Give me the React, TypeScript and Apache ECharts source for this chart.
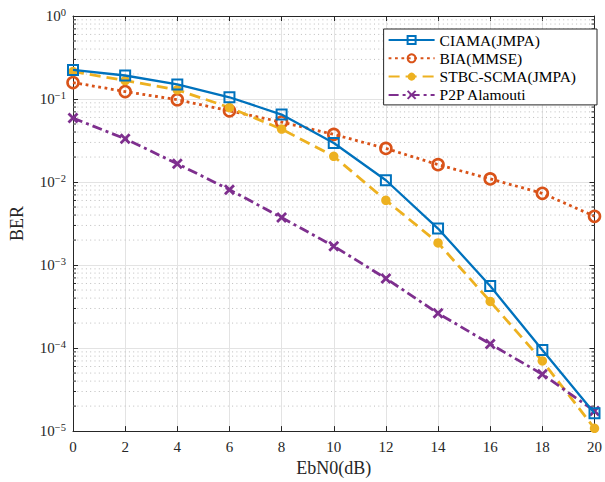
import React, { useEffect, useRef } from "react";
import * as echarts from "echarts";

const snr = [0, 2, 4, 6, 8, 10, 12, 14, 16, 18, 20];
const ciama = [0.224, 0.192, 0.15, 0.105, 0.065, 0.0295, 0.0105, 0.00275, 0.000558, 0.000095, 0.0000164];
const bia = [0.158, 0.123, 0.098, 0.0721, 0.0527, 0.0375, 0.0254, 0.0162, 0.0109, 0.00732, 0.00387];
const stbc = [0.214, 0.167, 0.129, 0.079, 0.0434, 0.0204, 0.00603, 0.00185, 0.000365, 0.00007, 0.0000108];
const p2p = [0.0589, 0.0332, 0.0166, 0.0081, 0.00373, 0.00169, 0.00069, 0.000262, 0.000112, 0.0000484, 0.0000175];
const names = ["CIAMA(JMPA)", "BIA(MMSE)", "STBC-SCMA(JMPA)", "P2P Alamouti"];
const decades = [-5, -4, -3, -2, -1];
const minorMultipliers = [2, 3, 4, 5, 6, 7, 8, 9];

const FONT = "'Liberation Serif', 'Times New Roman', serif";
const AX = "#262626";

export default function App() {
  const ref = useRef<HTMLDivElement>(null);
  useEffect(() => {
    if (!ref.current) return;
    const chart = echarts.init(ref.current, undefined, { renderer: "svg" });
    const pairs = (ys: number[]) => snr.map((x, i) => [x, ys[i]]);
    const minorData: number[][] = [];
    decades.forEach((d) => minorMultipliers.forEach((m) => minorData.push([0, m * Math.pow(10, d)])));

    const xCommon = {
      type: "value",
      min: 0,
      max: 20,
      interval: 2,
      axisLine: { show: true, onZero: false, lineStyle: { color: AX, width: 1 } },
      axisTick: { show: true, inside: true, length: 5, lineStyle: { color: AX } },
    };
    const yCommon = {
      type: "log",
      logBase: 10,
      min: 1e-5,
      max: 1,
      axisLine: { show: true, onZero: false, lineStyle: { color: AX, width: 1 } },
      axisTick: { show: true, inside: true, length: 5, lineStyle: { color: AX } },
    };

    chart.setOption({
      animation: false,
      backgroundColor: "#fff",
      textStyle: { fontFamily: FONT },
      grid: { left: 70, right: 7, top: 16, bottom: 50, containLabel: false },
      xAxis: [
        {
          ...xCommon,
          position: "bottom",
          splitLine: { show: true, lineStyle: { color: "#e3e3e3", width: 1 } },
          axisLabel: { fontFamily: FONT, fontSize: 15, color: AX, margin: 8 },
          name: "EbN0(dB)",
          nameLocation: "middle",
          nameGap: 27,
          nameTextStyle: { fontFamily: FONT, fontSize: 18, color: AX },
        },
        {
          ...xCommon,
          position: "top",
          splitLine: { show: false },
          axisLabel: { show: false },
        },
      ],
      yAxis: [
        {
          ...yCommon,
          position: "left",
          splitLine: { show: true, lineStyle: { color: "#e3e3e3", width: 1 } },
          axisLabel: {
            margin: 7,
            fontFamily: FONT,
            formatter: (v: number) => {
              const e = Math.round(Math.log10(v));
              const s = e < 0 ? "\u2212" + -e : String(e);
              return `{b|10}{s|${s}}`;
            },
            rich: {
              b: { fontFamily: FONT, fontSize: 15, lineHeight: 15, color: AX, verticalAlign: "bottom" },
              s: { fontFamily: FONT, fontSize: 10.5, lineHeight: 10.5, color: AX, verticalAlign: "bottom", padding: [0, 0, 6, 0] },
            },
          },
          name: "BER",
          nameLocation: "middle",
          nameGap: 47,
          nameTextStyle: { fontFamily: FONT, fontSize: 18, color: AX },
        },
        {
          ...yCommon,
          position: "right",
          splitLine: { show: false },
          axisLabel: { show: false },
        },
      ],
      legend: {
        data: names,
        orient: "vertical",
        right: 8,
        top: 29,
        itemWidth: 46,
        itemHeight: 10,
        itemGap: 2.3,
        padding: [3, 21, 2, 4],
        borderColor: AX,
        borderWidth: 1,
        backgroundColor: "#fff",
        selectedMode: false,
        textStyle: { fontFamily: FONT, fontSize: 15.5, lineHeight: 16, color: "#000" },
        z: 10,
      },
      series: [
        {
          type: "custom",
          silent: true,
          z: 1,
          encode: { x: 0, y: 1 },
          data: minorData,
          renderItem: (params: any, api: any) => {
            const cs = params.coordSys;
            const y = api.coord([0, api.value(1)])[1];
            return {
              type: "group",
              children: [
                { type: "line", shape: { x1: cs.x, y1: y, x2: cs.x + cs.width, y2: y }, style: { stroke: "#bdbdbd", lineWidth: 1, lineDash: [1, 3.3] } },
                { type: "line", shape: { x1: cs.x, y1: y, x2: cs.x + 3, y2: y }, style: { stroke: AX, lineWidth: 1 } },
                { type: "line", shape: { x1: cs.x + cs.width - 3, y1: y, x2: cs.x + cs.width, y2: y }, style: { stroke: AX, lineWidth: 1 } },
              ],
            };
          },
        },
        {
          name: names[0],
          type: "line",
          z: 5,
          data: pairs(ciama),
          symbol: "rect",
          symbolSize: 10,
          lineStyle: { color: "#0072BD", width: 2.3, type: "solid" },
          itemStyle: { color: "rgba(255,255,255,0)", borderColor: "#0072BD", borderWidth: 2 },
        },
        {
          name: names[1],
          type: "line",
          z: 4,
          data: pairs(bia),
          symbol: "circle",
          symbolSize: 11,
          lineStyle: { color: "#D95319", width: 2.8, type: [2.8, 3.6] },
          itemStyle: { color: "rgba(255,255,255,0)", borderColor: "#D95319", borderWidth: 2.6 },
        },
        {
          name: names[2],
          type: "line",
          z: 4,
          data: pairs(stbc),
          symbol: "circle",
          symbolSize: 9.5,
          lineStyle: { color: "#EDB120", width: 2.8, type: [11, 6] },
          itemStyle: { color: "#EDB120", borderColor: "#EDB120", borderWidth: 0 },
        },
        {
          name: names[3],
          type: "line",
          z: 4,
          data: pairs(p2p),
          symbol: "path://M0,0L10,10M10,0L0,10",
          symbolSize: 9,
          lineStyle: { color: "#7E2F8E", width: 2.8, type: [10, 4, 3, 4] },
          itemStyle: { color: "#7E2F8E", borderColor: "#7E2F8E", borderWidth: 2.8 },
        },
      ],
    });
    return () => chart.dispose();
  }, []);
  return <div ref={ref} style={{ position: "fixed", left: 0, top: 0, width: 605, height: 482 }} />;
}
